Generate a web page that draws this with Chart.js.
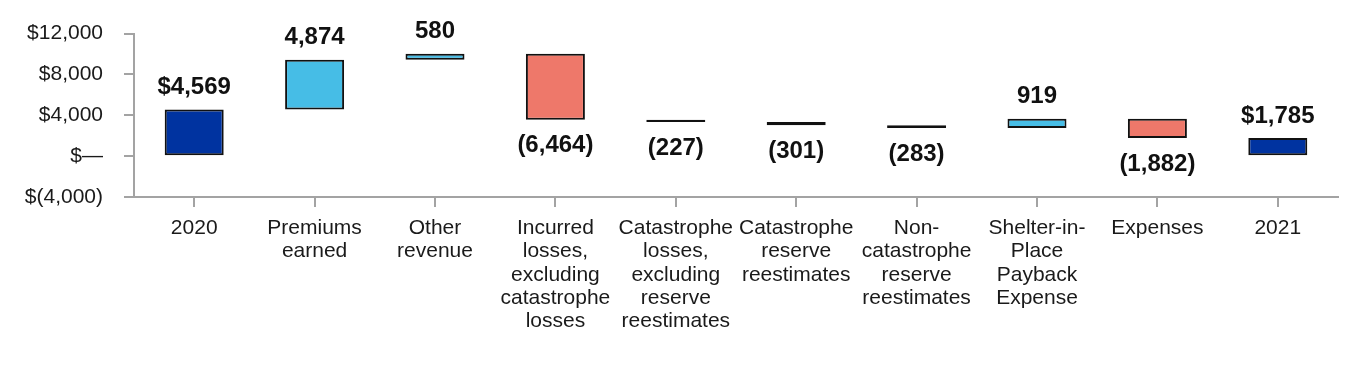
<!DOCTYPE html>
<html>
<head>
<meta charset="utf-8">
<script src="https://cdn.jsdelivr.net/npm/chart.js@4.4.1/dist/chart.umd.min.js"></script>
<style>
  html, body { margin: 0; padding: 0; background: #ffffff; }
  #wrap { width: 1368px; height: 370px; }
</style>
</head>
<body>
<div id="wrap"><canvas id="c" width="1368" height="370"></canvas></div>
<script>
// ---- data ----
const categories = [
  ["2020"],
  ["Premiums", "earned"],
  ["Other", "revenue"],
  ["Incurred", "losses,", "excluding", "catastrophe", "losses"],
  ["Catastrophe", "losses,", "excluding", "reserve", "reestimates"],
  ["Catastrophe", "reserve", "reestimates"],
  ["Non-", "catastrophe", "reserve", "reestimates"],
  ["Shelter-in-", "Place", "Payback", "Expense"],
  ["Expenses"],
  ["2021"]
];
const changes = [4569, 4874, 580, -6464, -227, -301, -283, 919, -1882, 1785];
const kinds = ["total", "inc", "inc", "dec", "dec", "dec", "dec", "inc", "dec", "total"];
const yTicks = [-4000, 0, 4000, 8000, 12000];

// ---- styles ----
const COLORS = { total: "#0033A0", inc: "#46BDE6", dec: "#EE786A" };
const AXIS = "#a3a3a3";
const FONT = "'Liberation Sans', Arial, Helvetica, sans-serif";

// build floating ranges (waterfall) from the values
const ranges = [];
let running = 0;
changes.forEach((v, i) => {
  if (kinds[i] === "total") { ranges.push([0, v]); running = v; }
  else { ranges.push([running, running + v]); running += v; }
});

function fmtNum(n) { return Math.abs(n).toLocaleString("en-US"); }
function labelText(i) {
  const v = changes[i];
  if (kinds[i] === "total") return "$" + fmtNum(v);
  if (v < 0) return "(" + fmtNum(v) + ")";
  return fmtNum(v);
}

const labelPlugin = {
  id: "wfLabels",
  afterDatasetsDraw(chart) {
    const ctx = chart.ctx;
    const meta = chart.getDatasetMeta(0);
    ctx.save();
    ctx.font = "bold 24px " + FONT;
    ctx.fillStyle = "#111111";
    ctx.textAlign = "center";
    ctx.textBaseline = "middle";
    meta.data.forEach((el, i) => {
      const top = Math.min(el.y, el.base);
      const bot = Math.max(el.y, el.base);
      const y = (changes[i] < 0) ? bot + 26 : top - 22;
      ctx.fillText(labelText(i), el.x, y);
    });
    ctx.restore();
  }
};

Chart.defaults.font.family = FONT;

new Chart(document.getElementById("c"), {
  type: "bar",
  data: {
    labels: categories,
    datasets: [{
      data: ranges,
      backgroundColor: kinds.map(k => COLORS[k]),
      borderColor: "#111111",
      borderWidth: 2,
      borderSkipped: false,
      barPercentage: 0.49,
      categoryPercentage: 1.0
    }]
  },
  options: {
    responsive: false,
    animation: false,
    devicePixelRatio: 1,
    layout: { padding: { top: 30, right: 30, left: 0, bottom: 0 } },
    plugins: { legend: { display: false }, tooltip: { enabled: false } },
    scales: {
      x: {
        offset: true,
        grid: { drawOnChartArea: false, offset: false, color: AXIS, lineWidth: 2, tickLength: 10 },
        border: { color: AXIS, width: 2 },
        ticks: {
          autoSkip: false, maxRotation: 0, minRotation: 0, padding: 10,
          color: "#1a1a1a",
          font: { size: 21, lineHeight: 1.1 }
        },
        afterFit(scale) { scale.height = 173; }
      },
      y: {
        min: -4000, max: 12000,
        afterBuildTicks(scale) { scale.ticks = yTicks.map(v => ({ value: v })); },
        grid: { drawOnChartArea: false, color: AXIS, lineWidth: 2, tickLength: 10 },
        border: { color: AXIS, width: 2 },
        ticks: {
          padding: 21,
          color: "#1a1a1a",
          font: { size: 21 },
          callback(v) {
            if (v === 0) return "$\u2014";
            if (v < 0) return "$(" + fmtNum(v) + ")";
            return "$" + fmtNum(v);
          }
        },
        afterFit(scale) { scale.width = 134; }
      }
    }
  },
  plugins: [labelPlugin]
});
</script>
</body>
</html>
